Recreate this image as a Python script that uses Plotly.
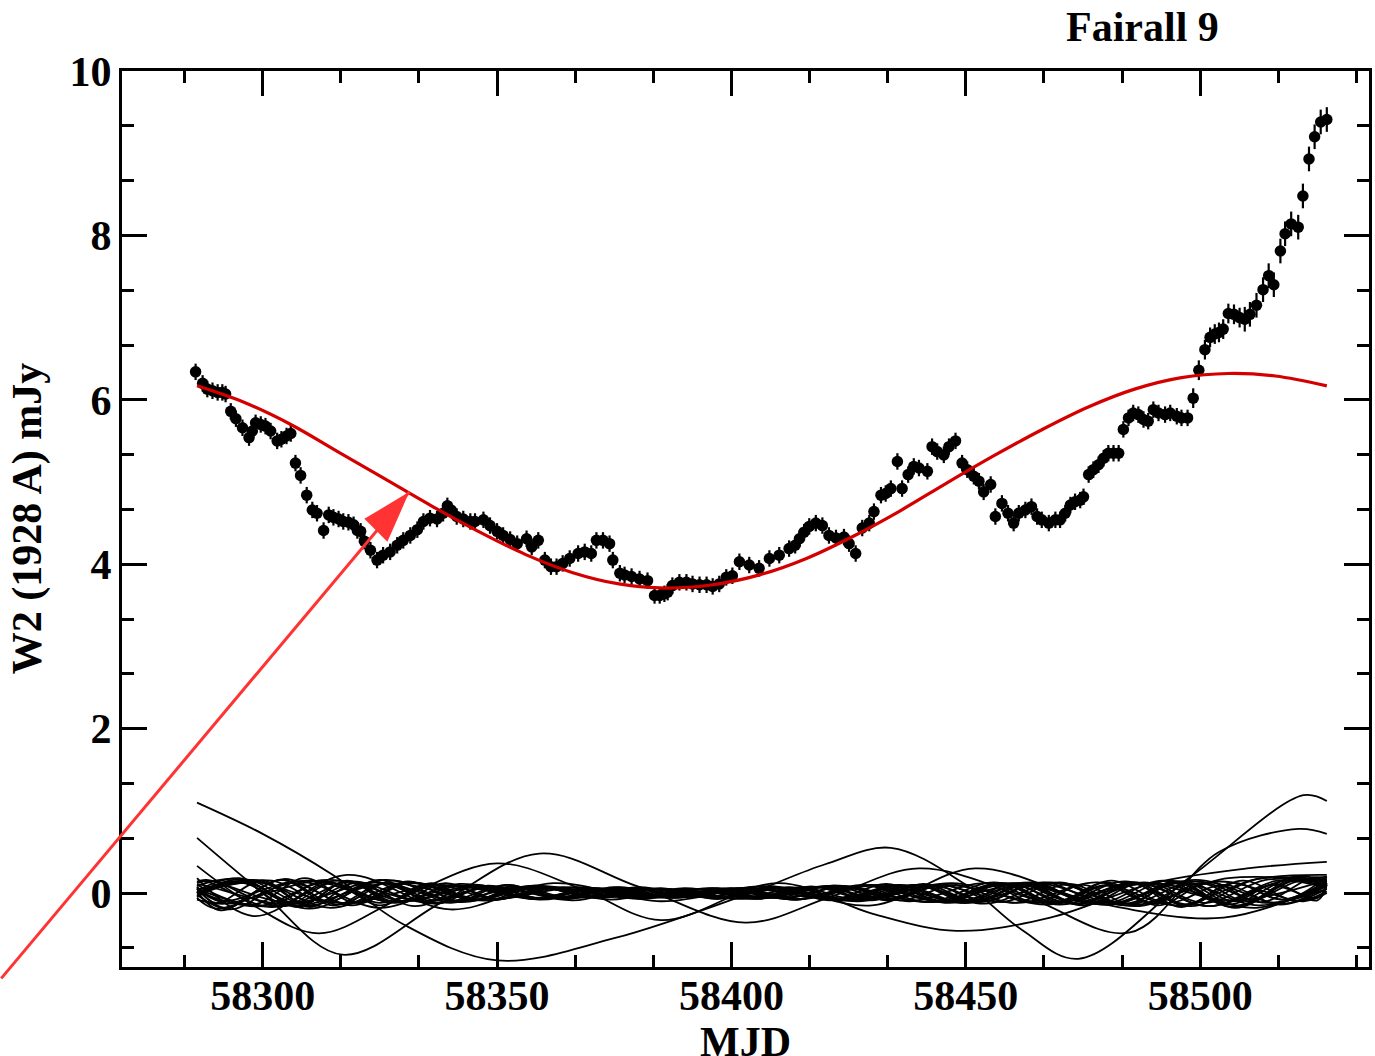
import plotly.graph_objects as go

# Swift/UVOT W2 light curve of Fairall 9
mjd = [58285.7, 58287.2, 58288.2, 58289.3, 58290.4, 58291.4, 58292.1, 58293.2, 58294.3, 58295.7,
       58297.1, 58297.8, 58298.5, 58299.6, 58300.6, 58301.7, 58303.1, 58304.0, 58305.1, 58306.0,
       58307.0, 58308.1, 58309.4, 58310.6, 58311.6, 58313.0, 58314.1, 58315.1, 58316.2, 58317.2,
       58318.3, 58319.4, 58320.2, 58320.9, 58321.7, 58323.0, 58324.4, 58325.7, 58327.2, 58328.7,
       58330.0, 58331.5, 58333.0, 58334.3, 58335.7, 58337.2, 58338.5, 58339.4, 58340.2, 58341.4,
       58342.8, 58344.3, 58345.3, 58347.1, 58348.5, 58350.0, 58351.3, 58352.8, 58354.3, 58356.3,
       58357.4, 58358.8, 58360.2, 58361.5, 58362.7, 58364.0, 58365.5, 58367.3, 58368.7, 58370.1,
       58371.2, 58372.6, 58374.0, 58374.7, 58376.2, 58377.2, 58378.7, 58380.4, 58382.1, 58383.6,
       58384.7, 58385.7, 58386.4, 58387.4, 58388.9, 58390.4, 58391.7, 58393.2, 58394.7, 58396.0,
       58397.4, 58398.9, 58400.2, 58401.7, 58403.8, 58405.9, 58408.1, 58410.2, 58412.3, 58413.6,
       58414.5, 58415.5, 58416.6, 58418.0, 58419.4, 58420.8, 58422.3, 58424.0, 58425.1, 58426.5,
       58427.9, 58429.4, 58430.4, 58431.9, 58432.9, 58434.0, 58435.4, 58436.4, 58437.7, 58438.9,
       58440.0, 58441.8, 58442.8, 58443.9, 58445.3, 58446.4, 58447.8, 58449.2, 58450.3, 58451.7,
       58452.8, 58453.8, 58455.3, 58456.3, 58457.7, 58459.0, 58460.2, 58461.3, 58462.7, 58464.0,
       58465.2, 58466.2, 58467.7, 58469.1, 58470.1, 58471.2, 58472.3, 58473.3, 58474.4, 58475.1,
       58476.2, 58477.2, 58478.3, 58479.4, 58480.4, 58481.5, 58482.6, 58483.6, 58484.7, 58485.7,
       58486.8, 58487.9, 58488.9, 58490.0, 58491.1, 58492.5, 58493.6, 58495.0, 58496.0, 58497.3,
       58498.5, 58499.7, 58501.0, 58502.1, 58503.1, 58504.0, 58504.9, 58506.0, 58507.2, 58508.4,
       58509.5, 58510.6, 58512.0, 58513.4, 58514.6, 58515.7, 58517.1, 58518.1, 58519.4, 58520.9,
       58521.9, 58523.2, 58524.4, 58525.7, 58527.0]
flux = [6.34, 6.20, 6.13, 6.11, 6.09, 6.09, 6.07, 5.86, 5.77, 5.66,
        5.54, 5.62, 5.72, 5.70, 5.68, 5.62, 5.50, 5.52, 5.56, 5.59,
        5.23, 5.08, 4.84, 4.66, 4.62, 4.41, 4.60, 4.57, 4.55, 4.52,
        4.51, 4.48, 4.41, 4.40, 4.28, 4.17, 4.05, 4.11, 4.15, 4.23,
        4.29, 4.35, 4.42, 4.52, 4.56, 4.55, 4.62, 4.71, 4.66, 4.58,
        4.55, 4.52, 4.52, 4.54, 4.47, 4.40, 4.35, 4.30, 4.25, 4.31,
        4.21, 4.29, 4.05, 3.97, 3.97, 4.01, 4.07, 4.13, 4.15, 4.13,
        4.29, 4.29, 4.25, 4.05, 3.89, 3.87, 3.85, 3.82, 3.80, 3.62,
        3.62, 3.64, 3.66, 3.74, 3.78, 3.78, 3.76, 3.75, 3.75, 3.73,
        3.76, 3.84, 3.86, 4.03, 3.99, 3.95, 4.07, 4.11, 4.19, 4.23,
        4.31, 4.39, 4.46, 4.50, 4.47, 4.35, 4.32, 4.33, 4.25, 4.13,
        4.44, 4.50, 4.64, 4.84, 4.86, 4.92, 5.25, 4.92, 5.09, 5.19,
        5.17, 5.13, 5.43, 5.37, 5.33, 5.43, 5.50, 5.23, 5.15, 5.07,
        5.01, 4.88, 4.97, 4.58, 4.74, 4.62, 4.50, 4.62, 4.66, 4.70,
        4.58, 4.54, 4.50, 4.54, 4.54, 4.62, 4.72, 4.76, 4.78, 4.82,
        5.09, 5.15, 5.21, 5.29, 5.35, 5.35, 5.35, 5.64, 5.78, 5.84,
        5.82, 5.76, 5.74, 5.88, 5.84, 5.82, 5.84, 5.80, 5.78, 5.78,
        6.02, 6.36, 6.61, 6.76, 6.80, 6.82, 6.86, 7.05, 7.04, 7.00,
        6.98, 7.04, 7.15, 7.34, 7.51, 7.40, 7.81, 8.02, 8.14, 8.10,
        8.48, 8.93, 9.20, 9.38, 9.41]
flux_err = [0.10] * 170 + [0.12] * 10 + [0.15] * 15

# Sinusoidal fit to the light curve (sampled)
fit_mjd = [58286, 58296, 58306, 58316, 58326, 58336, 58346, 58356, 58366, 58376, 58386, 58396,
           58406, 58416, 58426, 58436, 58446, 58456, 58466, 58476, 58486, 58496, 58506, 58516,
           58527]
fit_flux = [6.17, 5.97, 5.70, 5.37, 5.04, 4.71, 4.40, 4.12, 3.90, 3.76, 3.71, 3.75,
            3.87, 4.07, 4.34, 4.65, 4.99, 5.32, 5.63, 5.91, 6.13, 6.27, 6.32, 6.29,
            6.17]

# Fits to simulated light curves: the large-amplitude ones, as knots
sim_curves = [
    ([58286, 58300, 58315, 58330, 58350, 58375, 58404, 58420, 58434, 58450, 58462, 58474, 58498, 58522, 58527],
     [1.10, 0.72, 0.22, -0.38, -0.82, -0.55, 0.00, 0.35, 0.55, 0.10, -0.45, -0.80, 0.20, 1.19, 1.12]),
    ([58286, 58300, 58317, 58338, 58359, 58380, 58403, 58421, 58440, 58463, 58485, 58504, 58521, 58527],
     [0.67, 0.00, -0.75, -0.12, 0.48, 0.08, -0.36, -0.05, 0.30, -0.05, -0.48, 0.50, 0.78, 0.72]),
    ([58286, 58298, 58312, 58330, 58350, 58368, 58385, 58410, 58430, 58448, 58468, 58490, 58510, 58527],
     [0.33, -0.15, -0.49, -0.05, 0.36, 0.05, -0.33, 0.12, -0.25, -0.46, -0.30, 0.12, 0.30, 0.38]),
    ([58286, 58298, 58318, 58340, 58362, 58385, 58408, 58430, 58452, 58478, 58505, 58527],
     [0.18, -0.28, 0.22, -0.20, 0.12, -0.10, 0.08, -0.15, 0.30, -0.12, -0.30, 0.10]),
]

# Fits to simulated light curves: the small-amplitude bundle.
# Each entry: value at start, day of first extremum, spacing of extrema, extrema, value at end
bundle = [
    (0.05, 6, 12, [-0.18, 0.16, -0.14, 0.15, -0.12, 0.10, -0.08, 0.07, -0.06, 0.05, -0.06, 0.08, -0.09, 0.10,
                   -0.12, 0.11, -0.13, 0.14, -0.15, 0.18], 0.12),
    (0.00, 10, 14, [0.17, -0.15, 0.13, -0.12, 0.10, -0.09, 0.07, -0.05, 0.06, -0.08, 0.10, -0.12, 0.11, -0.13,
                    0.15, -0.14, 0.20], 0.15),
    (0.08, 4, 10, [-0.12, 0.15, -0.17, 0.13, -0.10, 0.09, -0.07, 0.06, -0.05, 0.05, -0.04, 0.05, -0.06, 0.08,
                   -0.07, 0.09, -0.10, 0.12, -0.11, 0.10, -0.13, 0.12, -0.10, 0.16], 0.10),
    (-0.05, 8, 16, [0.14, -0.19, 0.16, -0.11, 0.09, -0.08, 0.06, -0.07, 0.09, -0.10, 0.12, -0.14, 0.13, -0.16,
                    0.15], 0.08),
    (0.10, 12, 11, [-0.14, 0.18, -0.12, 0.14, -0.10, 0.08, -0.06, 0.07, -0.05, 0.04, -0.06, 0.07, -0.09, 0.11,
                    -0.10, 0.12, -0.14, 0.13, -0.17, 0.12, -0.08], 0.20),
    (0.12, 3, 15, [0.15, -0.16, 0.14, -0.10, 0.08, -0.07, 0.05, -0.05, 0.07, -0.09, 0.10, -0.13, 0.12, -0.15,
                   0.14, -0.12], 0.05),
    (-0.02, 7, 13, [-0.20, 0.12, -0.15, 0.13, -0.09, 0.08, -0.06, 0.05, -0.07, 0.06, -0.08, 0.10, -0.12, 0.10,
                    -0.15, 0.13, -0.12, 0.16], 0.14),
    (0.00, 14, 9, [0.13, -0.12, 0.15, -0.10, 0.12, -0.09, 0.07, -0.06, 0.05, -0.04, 0.04, -0.05, 0.04, -0.05,
                   0.06, -0.07, 0.08, -0.09, 0.10, -0.08, 0.09, -0.11, 0.12, -0.10, 0.11, -0.09], 0.10),
    (0.14, 2, 18, [0.16, -0.12, 0.13, -0.10, 0.07, -0.05, 0.06, -0.08, 0.10, -0.12, 0.13, -0.16, 0.14, -0.10],
     0.00),
    (0.03, 9, 12.5, [0.18, -0.13, 0.12, -0.16, 0.10, -0.07, 0.06, -0.05, 0.05, -0.06, 0.07, -0.08, 0.10, -0.11,
                     0.13, -0.12, 0.14, -0.18, 0.15], 0.10),
    (0.06, 5, 17, [-0.10, 0.14, -0.18, 0.11, -0.08, 0.06, -0.05, 0.06, -0.09, 0.10, -0.12, 0.13, -0.15, 0.17],
     0.22),
    (-0.03, 11, 10.5, [0.12, -0.17, 0.14, -0.11, 0.12, -0.08, 0.06, -0.05, 0.04, -0.05, 0.06, -0.05, 0.07,
                       -0.09, 0.08, -0.10, 0.12, -0.11, 0.13, -0.15, 0.12, -0.08], 0.15),
    (0.10, 1, 20, [0.10, -0.15, 0.12, -0.09, 0.07, -0.06, 0.08, -0.10, 0.12, -0.14, 0.12, -0.09], 0.16),
    (0.02, 13, 14.5, [-0.16, 0.13, -0.12, 0.09, -0.07, 0.06, -0.04, 0.05, -0.07, 0.09, -0.10, 0.12, -0.13, 0.11,
                      -0.16, 0.15], 0.06),
    (-0.08, 6, 22, [-0.13, 0.16, -0.12, 0.09, -0.07, 0.06, -0.08, 0.10, -0.12, 0.12, -0.18], 0.12),
    (0.04, 16, 11.5, [0.15, -0.11, 0.16, -0.13, 0.09, -0.07, 0.05, -0.06, 0.05, -0.07, 0.08, -0.07, 0.09,
                      -0.11, 0.10, -0.13, 0.12, -0.14, 0.15, -0.10], 0.02),
    (0.02, 5, 13.5, [-0.21, 0.17, -0.13, 0.12, -0.08, 0.07, -0.06, 0.05, -0.05, 0.07, -0.09, 0.10, -0.11, 0.13,
                     -0.12, 0.15, -0.17, 0.14], 0.20),
    (0.09, 9, 10, [0.17, -0.14, 0.12, -0.15, 0.11, -0.08, 0.06, -0.05, 0.04, -0.04, 0.05, -0.06, 0.07, -0.06,
                   0.08, -0.10, 0.09, -0.12, 0.10, -0.13, 0.14, -0.12, 0.10, -0.06], 0.12),
    (-0.06, 4, 19, [-0.19, 0.15, -0.11, 0.08, -0.06, 0.05, -0.07, 0.09, -0.11, 0.12, -0.14, 0.16, -0.13], 0.10),
    (0.05, 15, 12, [-0.16, 0.14, -0.12, 0.10, -0.07, 0.06, -0.05, 0.06, -0.07, 0.08, -0.09, 0.11, -0.10, 0.12,
                    -0.13, 0.15, -0.12, 0.10, -0.14], 0.05),
    (0.13, 2, 14, [0.14, -0.17, 0.15, -0.10, 0.08, -0.06, 0.05, -0.05, 0.06, -0.08, 0.10, -0.11, 0.13, -0.12,
                   0.14, -0.16, 0.17], 0.16),
    (-0.01, 12, 16.5, [0.16, -0.18, 0.13, -0.09, 0.07, -0.05, 0.06, -0.08, 0.10, -0.12, 0.11, -0.14, 0.12,
                       -0.15], 0.08),
    (0.07, 7, 11, [-0.13, 0.16, -0.15, 0.12, -0.09, 0.07, -0.06, 0.05, -0.04, 0.05, -0.05, 0.06, -0.08, 0.09,
                   -0.10, 0.12, -0.11, 0.13, -0.15, 0.13, -0.11, 0.19], 0.17),
    (0.00, 10, 21, [0.15, -0.12, 0.10, -0.07, 0.06, -0.07, 0.09, -0.11, 0.13, -0.15, 0.18], 0.14),
]
SIM_START, SIM_END = 58286, 58527

# Arrow pointing at the fitted curve
arrow_mjd, arrow_flux = 58331.3, 4.88

FONT = "Liberation Serif"
THIN = dict(color="black", width=1.8, shape="spline", smoothing=1.0)
fig = go.Figure()

for xs, ys in sim_curves:
    fig.add_trace(go.Scatter(x=xs, y=ys, mode="lines", line=THIN,
                             hoverinfo="skip", showlegend=False))
for start, first, step, ext, end in bundle:
    xs = [SIM_START] + [SIM_START + first + step * k for k in range(len(ext))] + [SIM_END]
    ys = [start] + ext + [end]
    fig.add_trace(go.Scatter(x=xs, y=ys, mode="lines", line=THIN,
                             hoverinfo="skip", showlegend=False))

fig.add_trace(go.Scatter(x=mjd, y=flux, mode="markers",
                         marker=dict(color="black", size=11.5),
                         error_y=dict(type="data", array=flux_err, color="black",
                                      thickness=2.2, width=0),
                         showlegend=False))
fig.add_trace(go.Scatter(x=fit_mjd, y=fit_flux, mode="lines",
                         line=dict(color="#d40000", width=3.2, shape="spline", smoothing=1.0),
                         showlegend=False))

fig.add_annotation(x=arrow_mjd, y=arrow_flux, xref="x", yref="y",
                   ax=-410, ay=488, axref="pixel", ayref="pixel",
                   text="", showarrow=True, arrowhead=0, arrowwidth=3,
                   arrowcolor="#ff3333", standoff=0)
fig.add_shape(type="path", xref="x", yref="y", xsizemode="pixel", ysizemode="pixel",
              xanchor=arrow_mjd, yanchor=arrow_flux,
              path="M 0 0 L -45 -27 L -22 -50 Z",
              fillcolor="#ff3333", line=dict(width=0), layer="above")

axis_common = dict(showline=True, linewidth=3, linecolor="black", mirror="ticks",
                   ticks="inside", ticklen=25, tickwidth=3, tickcolor="black",
                   showgrid=False, zeroline=False,
                   tickfont=dict(family=FONT, size=42, color="black"))
fig.update_xaxes(range=[58270, 58536], tickvals=[58300, 58350, 58400, 58450, 58500],
                 ticktext=["<b>58300</b>", "<b>58350</b>", "<b>58400</b>", "<b>58450</b>", "<b>58500</b>"],
                 minor=dict(dtick=50 / 3, tick0=58300, ticks="inside", ticklen=12,
                            tickwidth=2.5, tickcolor="black"),
                 ticklabelstandoff=-10,
                 **axis_common)
fig.update_yaxes(range=[-0.9, 10], tickvals=[0, 2, 4, 6, 8, 10],
                 ticktext=["<b>0</b>", "<b>2</b>", "<b>4</b>", "<b>6</b>", "<b>8</b>", "<b>10</b>"],
                 minor=dict(dtick=2 / 3, tick0=0, ticks="inside", ticklen=12,
                            tickwidth=2.5, tickcolor="black"),
                 ticklabelstandoff=-1,
                 **axis_common)

fig.add_annotation(text="<b>MJD</b>", xref="paper", yref="paper", x=0.5, y=-0.056,
                   xanchor="center", yanchor="top", showarrow=False,
                   font=dict(family=FONT, size=42, color="black"))
fig.add_annotation(text="<b>W2 (1928 A) mJy</b>", xref="paper", yref="paper", x=-0.076, y=0.5,
                   xanchor="center", yanchor="middle", textangle=-90, showarrow=False,
                   font=dict(family=FONT, size=42, color="black"))
fig.add_annotation(text="<b>Fairall 9</b>", xref="paper", yref="paper", x=0.8185, y=1.0,
                   xanchor="center", yanchor="bottom", yshift=19, showarrow=False,
                   font=dict(family=FONT, size=42, color="black"))

fig.update_layout(width=1375, height=1056, plot_bgcolor="white", paper_bgcolor="white",
                  margin=dict(l=122, r=3, t=71, b=89), showlegend=False)

fig.write_html("out.html")
